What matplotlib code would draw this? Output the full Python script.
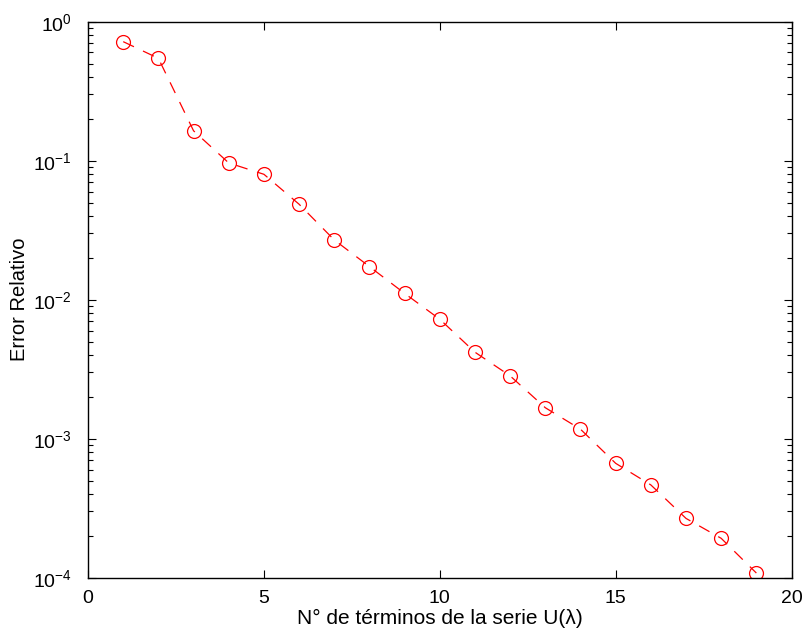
import matplotlib
matplotlib.use("Agg")
import matplotlib.pyplot as plt
from matplotlib.ticker import LogLocator, FixedLocator, NullFormatter

plt.rcParams['font.family'] = ['Liberation Sans', 'DejaVu Sans']
plt.rcParams['mathtext.fontset'] = 'custom'
plt.rcParams['mathtext.rm'] = 'Liberation Sans'
plt.rcParams['mathtext.it'] = 'Liberation Sans'
plt.rcParams['mathtext.default'] = 'regular'

n_terms = [1, 2, 3, 4, 5, 6, 7, 8, 9, 10, 11, 12, 13, 14, 15, 16, 17, 18, 19]
rel_error = [0.718, 0.545, 0.164, 0.0963, 0.0798, 0.0486, 0.0269, 0.0173, 0.0111,
             0.00723, 0.00419, 0.00283, 0.00167, 0.00117, 0.000665, 0.000465,
             0.000267, 0.000192, 0.000108]
x_ticks = [0, 5, 10, 15, 20]

fig = plt.figure(figsize=(8.04, 6.37), dpi=100)
ax = fig.add_axes([0.1095, 0.0931, 0.875, 0.8729])
ax.semilogy(n_terms, rel_error, color='red', linestyle=(0, (9.5, 8)), linewidth=0.9,
            marker='o', markersize=10, markerfacecolor='none', markeredgecolor='red',
            markeredgewidth=0.9)
ax.set_xlim(0, 20)
ax.set_ylim(1e-4, 1)
ax.xaxis.set_major_locator(FixedLocator(x_ticks))
ax.yaxis.set_major_locator(LogLocator(base=10, numticks=10))
ax.yaxis.set_minor_locator(LogLocator(base=10, subs=range(2, 10), numticks=20))
ax.yaxis.set_minor_formatter(NullFormatter())
ax.tick_params(which='both', direction='in', top=True, right=True, labelsize=14)
ax.tick_params(axis='y', which='major', pad=11.5)
ax.tick_params(axis='x', which='major', pad=9)
ax.tick_params(which='major', length=6, width=0.8)
ax.tick_params(which='minor', length=3.5, width=0.8)
for s in ax.spines.values():
    s.set_linewidth(1.0)
ax.set_xlabel('N° de términos de la serie U(λ)', fontsize=15, labelpad=1)
ax.set_ylabel('Error Relativo', fontsize=14.5, labelpad=3)
fig.savefig('out.png', dpi=100)
